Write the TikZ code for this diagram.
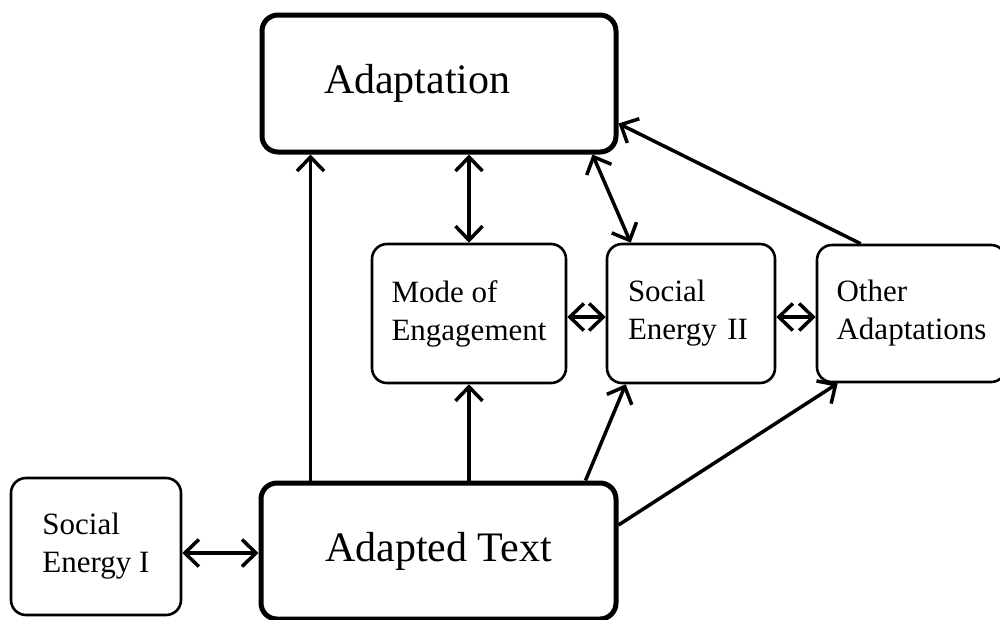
\documentclass[tikz,border=0pt]{standalone}
\usepackage{fontspec}
\setmainfont{Liberation Serif}
\usetikzlibrary{arrows.meta}
\begin{document}
\begin{tikzpicture}[x=1pt,y=-1pt,
  bigbox/.style={draw, line width=5pt, rounded corners=16pt, inner sep=0pt,
    font=\fontsize{42}{48}\selectfont},
  smallbox/.style={draw, line width=2.6pt, rounded corners=15pt, inner sep=0pt,
    align=left, font=\fontsize{31}{38}\selectfont},
  arr/.style={line width=3.5pt, -{Straight Barb[length=14pt,width=27pt]}},
  darr/.style={line width=3.5pt, {Straight Barb[length=14pt,width=27pt]}-{Straight Barb[length=14pt,width=27pt]}}]
\useasboundingbox (0,0) rectangle (1000,619);
\clip (0,0) rectangle (1000,619);
\node[bigbox, minimum width=354pt, minimum height=137pt, text width=230pt, align=left] (ad) at (439,83.5) {Adaptation};
\node[bigbox, minimum width=355pt, minimum height=136pt] (at) at (438.5,551) {\raisebox{-3pt}{Adapted Text}};
\node[smallbox, minimum width=170pt, minimum height=137pt] (se1) at (96,546.5) {Social\\Energy I};
\node[smallbox, minimum width=194pt, minimum height=139pt] (me) at (469,313.5) {Mode of\\Engagement};
\node[smallbox, minimum width=168pt, minimum height=139pt, text width=126pt] (se2) at (691,313.5) {Social\\Energy II};
\node[smallbox, minimum width=189pt, minimum height=137pt] (oa) at (911.5,313.5) {Other\\Adaptations};
% connectors
\draw[arr] ([xshift=52pt]at.north west) -- ([xshift=51pt]ad.south west);
\draw[arr] (at.north -| me.south) -- (me.south);
\draw[darr] (me.north) -- (ad.south -| me.north);
\draw[arr] ([xshift=-33pt]at.north east) -- ([xshift=20pt]se2.south west);
\draw[arr] ([yshift=26pt]at.east) -- ([xshift=22pt]oa.south west);
\draw[darr] ([xshift=-26pt]ad.south east) -- ([xshift=25pt]se2.north west);
\draw[arr] ([xshift=45pt]oa.north west) -- ([yshift=31pt]ad.south east);
\coordinate (l) at ([yshift=-6.5pt]se1.east);
\draw[darr] (l) -- (l -| at.west);
\coordinate (m) at ([yshift=-3.5pt]me.east);
\draw[darr] (m) -- (m -| se2.west);
\draw[darr] (m -| se2.east) -- (m -| oa.west);
\end{tikzpicture}
\end{document}
